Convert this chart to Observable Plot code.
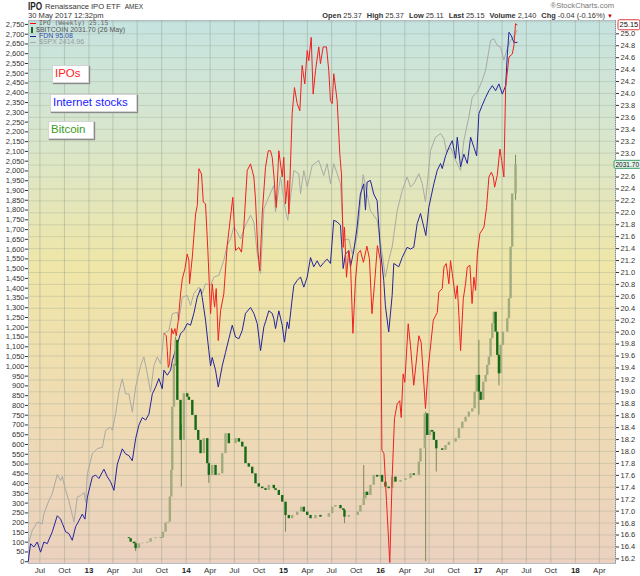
<!DOCTYPE html>
<html><head><meta charset="utf-8">
<script src="https://cdn.jsdelivr.net/npm/d3@7"></script>
<script src="https://cdn.jsdelivr.net/npm/@observablehq/plot@0.6"></script>
<style>
body{margin:0;background:#fff;font-family:"Liberation Sans",Arial,sans-serif;}
#wrap{position:relative;width:640px;height:576px;overflow:hidden;background:#fff;}
#chart{position:absolute;left:0;top:20px;width:640px;height:556px;}
#chart svg{position:absolute;left:0;top:0;}
.h{position:absolute;white-space:nowrap;color:#222;}
.h b{margin-left:3px;}
.ann{position:absolute;background:#fff;border:1px solid #d4d4d4;box-shadow:1px 1px 1px #8a8a8a;font-size:11.5px;line-height:15px;padding-left:2px;white-space:nowrap;}
.lg{position:absolute;left:30px;font-size:7px;white-space:nowrap;line-height:7px;}
.dash{display:inline-block;width:6px;height:0;border-top:1.5px solid;vertical-align:middle;margin-right:3px;}
</style></head>
<body><div id="wrap">
<span class="h" style="left:28px;top:0px;font-weight:bold;font-size:10.5px;transform:scaleX(0.78);transform-origin:left top;">IPO</span>
<span class="h" style="left:45px;top:2px;font-size:7.6px;color:#333;">Renaissance IPO ETF <span style="font-size:6.5px;margin-left:2px">AMEX</span></span>
<span class="h" style="left:28px;top:11px;font-size:7.6px;color:#333;">30 May 2017 12:32pm</span>
<span class="h" style="right:26px;top:1px;font-size:7.6px;color:#777;">®StockCharts.com</span>
<span class="h" style="right:27px;top:11px;font-size:7.4px;color:#333;"><b>Open</b> 25.37 <b>High</b> 25.37 <b>Low</b> 25.11 <b>Last</b> 25.15 <b>Volume</b> 2,140 <b>Chg</b> -0.04 (-0.16%) <span style="color:#c00;font-size:6px">▼</span></span>
<div id="chart"></div>
<div class="lg" style="top:20px;color:#666;font-family:'DejaVu Sans Mono',monospace;font-size:6.4px;"><span class="dash" style="color:#f00"></span>IPO (Weekly) 25.15</div>
<div class="lg" style="top:26px;color:#555;"><span style="display:inline-block;width:2px;height:6px;background:#156b15;margin:0 3px 0 1px;vertical-align:middle"></span>$BITCOIN 2031.70 (26 May)</div>
<div class="lg" style="top:32px;color:#3a4aa8;"><span class="dash" style="color:#22229a"></span>FDN 95.08</div>
<div class="lg" style="top:38px;color:#999;"><span class="dash" style="color:#aaa"></span>$SPX 2414.96</div>
<div class="ann" style="left:52px;top:65px;width:33px;height:16px;color:#ff1a1a;">IPOs</div>
<div class="ann" style="left:50px;top:94px;width:83px;height:16px;color:#1a1aff;">Internet stocks</div>
<div class="ann" style="left:48px;top:121px;width:42px;height:16px;color:#3c9a1c;">Bitcoin</div>
</div>
<script>
// ---- data (dates as decimal years) ----
const spxT = [2012.383,2012.418,2012.470,2012.521,2012.538,2012.589,2012.624,2012.675,2012.709,2012.727,
2012.761,2012.794,2012.846,2012.881,2012.915,2012.949,2012.966,2012.984,2013.035,2013.086,
2013.138,2013.172,2013.223,2013.240,2013.274,2013.308,2013.343,2013.377,2013.411,2013.446,
2013.480,2013.531,2013.565,2013.600,2013.634,2013.668,2013.703,2013.737,2013.754,2013.771,
2013.822,2013.857,2013.909,2013.925,2013.960,2014.011,2014.045,2014.079,2014.131,2014.165,
2014.199,2014.251,2014.285,2014.336,2014.387,2014.422,2014.456,2014.490,2014.525,2014.559,
2014.610,2014.662,2014.696,2014.731,2014.765,2014.799,2014.850,2014.901,2014.919,2014.970,
2015.022,2015.045,2015.107,2015.158,2015.176,2015.210,2015.245,2015.296,2015.364,2015.415,
2015.450,2015.484,2015.518,2015.553,2015.587,2015.621,2015.672,2015.707,2015.758,2015.820,
2015.861,2015.895,2015.964,2016.015,2016.049,2016.083,2016.118,2016.170,2016.221,2016.272,
2016.306,2016.340,2016.392,2016.427,2016.460,2016.512,2016.563,2016.615,2016.649,2016.676,
2016.717,2016.769,2016.820,2016.854,2016.905,2016.940,2016.992,2017.043,2017.077,2017.128,
2017.162,2017.197,2017.231,2017.265,2017.300,2017.334,2017.368,2017.400];
const spxV = [1293,1318,1337,1333,1355,1384,1399,1441,1428,1437,
1406,1384,1337,1392,1395,1402,1380,1443,1487,1498,
1501,1538,1545,1538,1574,1622,1651,1618,1618,1578,
1633,1680,1699,1662,1622,1680,1699,1684,1713,1750,
1757,1794,1797,1779,1830,1834,1812,1838,1852,1838,
1860,1856,1874,1878,1911,1944,1958,1984,1973,1958,
1988,2010,1995,1926,1882,2024,2050,2075,2017,2094,
2020,1999,2108,2101,2057,2108,2072,2119,2130,2097,
2123,2079,2123,2101,2079,1955,1958,1926,1962,2099,
2057,2020,1999,1926,1874,1911,1940,2020,2064,2094,
2072,2079,2101,2079,2039,2152,2181,2189,2178,2148,
2159,2130,2108,2174,2225,2269,2280,2306,2328,2393,
2397,2382,2379,2350,2376,2393,2402,2415];

const fdnT = [2012.377,2012.401,2012.435,2012.470,2012.504,2012.538,2012.572,2012.624,2012.675,2012.709,
2012.727,2012.761,2012.794,2012.829,2012.863,2012.897,2012.932,2012.959,2012.984,2013.035,
2013.069,2013.103,2013.154,2013.189,2013.223,2013.257,2013.292,2013.343,2013.377,2013.411,
2013.446,2013.480,2013.514,2013.549,2013.583,2013.617,2013.652,2013.686,2013.719,2013.754,
2013.771,2013.806,2013.840,2013.857,2013.909,2013.942,2013.976,2014.011,2014.045,2014.079,
2014.114,2014.148,2014.165,2014.199,2014.233,2014.251,2014.268,2014.302,2014.330,2014.371,
2014.405,2014.439,2014.474,2014.508,2014.542,2014.577,2014.610,2014.662,2014.696,2014.731,
2014.765,2014.799,2014.816,2014.850,2014.885,2014.901,2014.919,2014.953,2014.988,2015.011,
2015.039,2015.056,2015.090,2015.107,2015.142,2015.176,2015.210,2015.245,2015.279,2015.312,
2015.347,2015.381,2015.415,2015.450,2015.484,2015.518,2015.553,2015.587,2015.615,2015.638,
2015.672,2015.690,2015.724,2015.758,2015.792,2015.826,2015.844,2015.861,2015.895,2015.929,
2015.964,2015.998,2016.032,2016.049,2016.083,2016.118,2016.135,2016.186,2016.221,2016.255,
2016.272,2016.306,2016.340,2016.375,2016.409,2016.443,2016.464,2016.494,2016.546,2016.581,
2016.615,2016.632,2016.666,2016.700,2016.735,2016.769,2016.786,2016.820,2016.854,2016.889,
2016.923,2016.957,2016.985,2017.008,2017.043,2017.077,2017.111,2017.146,2017.180,2017.214,
2017.249,2017.283,2017.300,2017.317,2017.341,2017.368,2017.400];
const fdnV = [33.8,35.9,35.5,36.1,34.9,36.1,35.9,37.3,39.2,38.8,
38.3,37.3,37.1,36.3,37.9,38.6,39.4,38.8,41.4,43.8,
44.0,43.6,44.7,43.8,43.2,42.2,45.3,47.1,46.5,46.3,
45.7,48.3,49.9,50.8,50.5,51.2,53.6,54.4,55.4,54.2,
56.4,55.8,56.4,57.5,59.5,60.7,61.1,61.9,61.7,63.1,
65.0,66.0,65.0,62.3,58.7,56.9,57.9,56.4,54.4,56.9,
58.5,60.1,61.7,60.3,60.1,61.1,63.1,63.8,63.1,61.9,
58.7,61.5,62.1,63.4,63.1,62.5,61.3,63.4,61.7,59.7,
62.1,61.3,64.8,66.4,67.0,67.4,66.2,67.4,69.7,68.6,
69.3,68.6,69.1,69.5,69.0,74.1,73.9,73.5,68.4,70.1,
70.5,68.6,70.5,73.3,77.2,78.4,75.3,78.6,78.8,77.2,
76.4,70.5,67.0,64.0,60.9,65.2,69.0,68.6,69.7,70.5,
70.9,70.7,70.9,73.7,74.9,73.3,72.3,75.6,78.4,80.0,
80.8,80.2,81.7,82.7,83.5,81.4,83.9,80.4,81.9,80.8,
83.9,82.7,81.7,86.7,87.7,88.6,89.4,90.0,89.4,90.2,
89.0,90.0,93.6,96.3,95.9,95.1,95.1];

const ipoT = [2013.771,2013.795,2013.806,2013.816,2013.829,2013.850,2013.867,2013.884,2013.898,2013.919,
2013.942,2013.960,2013.987,2014.011,2014.028,2014.035,2014.063,2014.097,2014.114,2014.131,
2014.158,2014.176,2014.199,2014.223,2014.251,2014.268,2014.292,2014.309,2014.330,2014.354,
2014.387,2014.422,2014.456,2014.480,2014.508,2014.542,2014.569,2014.593,2014.628,2014.662,
2014.696,2014.713,2014.737,2014.757,2014.782,2014.816,2014.844,2014.867,2014.885,2014.901,
2014.926,2014.953,2014.988,2015.004,2015.022,2015.045,2015.056,2015.090,2015.114,2015.142,
2015.169,2015.193,2015.220,2015.245,2015.261,2015.286,2015.306,2015.330,2015.364,2015.381,
2015.409,2015.443,2015.467,2015.484,2015.502,2015.518,2015.553,2015.580,2015.597,2015.615,
2015.628,2015.649,2015.672,2015.690,2015.715,2015.741,2015.767,2015.792,2015.823,2015.859,
2015.885,2015.911,2015.936,2015.967,2015.998,2016.013,2016.034,2016.060,2016.094,2016.118,
2016.142,2016.170,2016.196,2016.211,2016.231,2016.248,2016.283,2016.306,2016.340,2016.365,
2016.392,2016.416,2016.460,2016.488,2016.540,2016.581,2016.597,2016.632,2016.649,2016.673,
2016.700,2016.717,2016.735,2016.751,2016.769,2016.786,2016.803,2016.820,2016.848,2016.871,
2016.889,2016.916,2016.938,2016.957,2016.974,2016.992,2017.018,2017.060,2017.087,2017.111,
2017.136,2017.156,2017.170,2017.197,2017.224,2017.242,2017.265,2017.283,2017.317,2017.351,
2017.368,2017.385,2017.400];
const ipoV = [19.98,19.94,19.69,19.41,19.47,20.06,19.97,20.06,19.94,20.20,
20.64,20.89,21.06,21.31,21.20,20.81,21.26,21.98,22.12,22.74,
22.65,22.18,22.15,21.37,20.31,20.81,20.42,20.73,19.86,20.36,
20.64,21.45,21.93,22.26,21.37,21.42,21.34,21.76,22.71,22.82,
22.60,22.23,21.37,21.03,21.98,22.76,23.04,23.04,22.93,22.65,
22.09,23.04,22.60,22.93,22.15,22.54,21.98,23.66,24.10,23.83,
23.71,24.47,24.16,24.72,24.55,24.94,23.99,24.38,24.78,24.50,
24.78,24.78,24.38,23.88,23.83,24.33,23.88,22.99,22.65,21.42,
21.76,20.92,21.37,21.15,19.98,20.87,21.32,21.37,21.17,21.44,
21.23,20.31,20.78,21.45,21.20,18.02,17.97,17.18,16.14,17.55,
18.55,18.80,18.85,18.57,19.30,19.16,20.14,19.78,19.11,19.50,
19.94,19.83,18.72,19.39,20.20,20.33,20.67,20.73,21.09,21.15,
20.81,21.20,20.98,20.78,20.56,20.78,20.28,19.69,20.56,20.81,
21.09,21.12,20.48,20.92,20.70,21.31,21.65,21.76,22.09,22.60,
22.68,22.60,22.43,22.63,23.07,22.88,22.60,24.10,24.61,24.66,
24.80,25.17,25.15];

const btcT = [2013.377,2013.411,2013.429,2013.462,2013.480,2013.514,2013.549,2013.600,2013.634,2013.686,
2013.737,2013.761,2013.788,2013.816,2013.832,2013.847,2013.857,2013.874,2013.891,2013.909,
2013.942,2013.976,2014.011,2014.028,2014.063,2014.097,2014.124,2014.148,2014.182,2014.217,
2014.233,2014.268,2014.302,2014.336,2014.371,2014.405,2014.439,2014.474,2014.508,2014.542,
2014.577,2014.610,2014.644,2014.679,2014.713,2014.747,2014.782,2014.816,2014.850,2014.901,
2014.919,2014.953,2014.988,2015.022,2015.056,2015.090,2015.142,2015.183,2015.210,2015.245,
2015.279,2015.330,2015.381,2015.433,2015.467,2015.502,2015.535,2015.587,2015.615,2015.628,
2015.672,2015.724,2015.765,2015.792,2015.826,2015.844,2015.861,2015.895,2015.929,2015.964,
2015.998,2016.015,2016.049,2016.083,2016.118,2016.152,2016.204,2016.255,2016.306,2016.340,
2016.375,2016.392,2016.409,2016.437,2016.453,2016.478,2016.505,2016.529,2016.546,2016.571,
2016.597,2016.632,2016.666,2016.700,2016.735,2016.769,2016.803,2016.838,2016.871,2016.905,
2016.940,2016.964,2016.985,2017.008,2017.026,2017.053,2017.077,2017.094,2017.111,2017.128,
2017.146,2017.162,2017.180,2017.197,2017.214,2017.231,2017.255,2017.283,2017.300,2017.317,
2017.334,2017.351,2017.385];
const btcClose = [123,118,100,92,67,92,95,100,118,123,
121,151,198,203,331,467,791,1011,1133,826,
621,860,842,826,749,672,621,553,630,502,
442,493,442,450,553,655,604,604,630,612,
587,502,484,450,399,382,374,365,391,374,
365,339,305,237,220,237,254,279,254,237,
220,237,228,228,246,279,288,271,263,228,
237,237,254,288,322,356,339,391,442,433,
442,407,382,374,433,407,416,425,450,442,
442,510,578,578,757,646,672,663,621,578,
578,570,595,612,612,630,681,715,740,766,
783,868,954,868,826,919,954,1005,1047,1141,
1218,1277,1175,1056,962,1107,1175,1175,1244,1346,
1610,1883,2032];
// visible candle wicks: date, low, high
const wickT    = [2013.480,2013.891,2013.950,2014.233,2015.022,2015.628,2015.826,2016.462,2016.571,2017.008,2017.214,2017.385];
const wickLow  = [52,1000,382,401,151,195,322,0,459,750,900,1850];
const wickHigh = [100,1150,700,500,300,270,493,766,620,1133,1060,2080];

// axis ticks
const btcTicks = d3.range(0, 2751, 50);
const ipoTicks = d3.range(81, 126).map(i => i / 5).filter(v => Math.abs(v - 22.8) > 1e-6); // 22.8 hidden under the Bitcoin value box
const ipoGrid  = d3.range(81, 127).map(i => i / 5);
const btcDomain = [-9, 2770];
const ipoDomain = [16.123, 25.223];
const fdnDomain = [33.56, 97.69];
const spxDomain = [1246, 2437];
const lastIPO = 25.15, lastBTC = 2031.70;

// ---- helpers ----
const toDate = t => { const y = Math.floor(t); const a = Date.UTC(y,0,1), b = Date.UTC(y+1,0,1); return new Date(a + (t - y) * (b - a)); };
const zip = (T, V) => T.slice(0, Math.min(T.length, V.length)).map((t, i) => ({date: toDate(t), v: V[i]}));
const xDomain = [toDate(2012.380), toDate(2018.413)];
const quarters = d3.utcMonth.every(3).range(toDate(2012.45), toDate(2018.41));

const W = 640, H = 556, ML = 28, MR = 25, MT = 0, MB = 13;
function layer(yDomain, marks) {
  return Plot.plot({
    width: W, height: H, marginLeft: ML, marginRight: MR, marginTop: MT, marginBottom: MB,
    style: {background: "transparent", overflow: "visible", fontFamily: "'Liberation Sans', Arial, sans-serif", fontSize: "7.5px", color: "#333"},
    x: {type: "utc", domain: xDomain, axis: null},
    y: {domain: yDomain, axis: null},
    marks
  });
}
function gradientDefs() {
  const ns = "http://www.w3.org/2000/svg";
  const defs = document.createElementNS(ns, "defs");
  const lg = document.createElementNS(ns, "linearGradient");
  lg.setAttribute("id", "bgGrad"); lg.setAttribute("x1", "0"); lg.setAttribute("y1", "0"); lg.setAttribute("x2", "0"); lg.setAttribute("y2", "1");
  [["0", "#c6e3e0"], ["0.22", "#d9e6cb"], ["0.45", "#efe6a8"], ["0.7", "#efdcb2"], ["1", "#ebd1bf"]].forEach(([o, c]) => {
    const s = document.createElementNS(ns, "stop"); s.setAttribute("offset", o); s.setAttribute("stop-color", c); lg.appendChild(s);
  });
  defs.appendChild(lg);
  return defs;
}

const spx = zip(spxT, spxV), fdn = zip(fdnT, fdnV), ipo = zip(ipoT, ipoV);
const btc = btcT.slice(0, Math.min(btcT.length, btcClose.length)).map((t, i) => ({date: toDate(t), open: i ? btcClose[i-1] : btcClose[0], close: btcClose[i]}));
const wicks = wickT.map((t, i) => ({date: toDate(t), low: wickLow[i], high: wickHigh[i]}));

const chart = document.getElementById("chart");

// base: background, grid, right axis (IPO scale)
const base = layer(ipoDomain, [
  gradientDefs,
  Plot.frame({fill: "url(#bgGrad)", stroke: "#b4bcc4"}),
  Plot.ruleY(ipoGrid, {stroke: "#8d9c8a", strokeOpacity: 0.28}),
  Plot.ruleX(quarters, {stroke: "#8d9c8a", strokeOpacity: 0.42}),
  Plot.ruleX([xDomain[1]], {stroke: "#7f8e9c", strokeDasharray: "1,1"}),
  Plot.axisY(ipoTicks, {anchor: "right", tickSize: 3, tickPadding: 2, tickFormat: d => d.toFixed(1)})
]);
chart.appendChild(base);

chart.appendChild(layer(spxDomain, [Plot.line(spx, {x: "date", y: "v", stroke: "#a9aaa4", strokeWidth: 1})]));
chart.appendChild(layer(fdnDomain, [Plot.line(fdn, {x: "date", y: "v", stroke: "#24249c", strokeWidth: 1})]));

const btcLayer = layer(btcDomain, [
  Plot.ruleX(wicks, {x: "date", y1: "low", y2: "high", stroke: "#7b8a58", strokeWidth: 1}),
  Plot.ruleX(btc.filter(d => d.close >= d.open), {x: "date", y1: "open", y2: "close", stroke: "#a0ab7e", strokeWidth: 2.4}),
  Plot.ruleX(btc.filter(d => d.close < d.open), {x: "date", y1: "open", y2: "close", stroke: "#156b15", strokeWidth: 2.4}),
  Plot.axisY(btcTicks, {anchor: "left", tickSize: 3, tickPadding: 1}),
  Plot.axisX(quarters, {anchor: "bottom", tickSize: 0, tickPadding: 4, fontSize: 8,
    tickFormat: d => d.getUTCMonth() === 0 ? String(d.getUTCFullYear()).slice(2) : d3.utcFormat("%b")(d)}),
  Plot.text([lastBTC], {y: d => d, text: d => d.toFixed(2), frameAnchor: "right", dx: 0, textAnchor: "start", fill: "#111", fontSize: 6.5})
]);
chart.appendChild(btcLayer);

const ipoLayer = layer(ipoDomain, [
  Plot.line(ipo, {x: "date", y: "v", stroke: "#f02020", strokeWidth: 1}),
  Plot.text([lastIPO], {y: d => d, text: d => d.toFixed(2), frameAnchor: "right", dx: 4, textAnchor: "start", fill: "#111"})
]);
chart.appendChild(ipoLayer);

// bold year labels on the x axis
const yearLabels = new Set(["13", "14", "15", "16", "17", "18"]);
btcLayer.querySelectorAll('g[aria-label="x-axis tick label"] text').forEach(t => {
  if (yearLabels.has(t.textContent)) { t.setAttribute("font-weight", "bold"); t.setAttribute("fill", "#222"); }
});
// value boxes behind last-value labels
function boxLabel(svg, value, stroke, fill) {
  const ns = "http://www.w3.org/2000/svg";
  svg.querySelectorAll("text").forEach(t => {
    if (t.textContent !== value) return;
    const b = t.getBBox();
    const r = document.createElementNS(ns, "rect");
    r.setAttribute("x", b.x - 1.5); r.setAttribute("y", b.y - 0.5);
    r.setAttribute("width", b.width + 3); r.setAttribute("height", b.height + 1);
    r.setAttribute("rx", 1.5);
    r.setAttribute("fill", fill); r.setAttribute("stroke", stroke); r.setAttribute("stroke-width", 1);
    if (t.getAttribute("transform")) r.setAttribute("transform", t.getAttribute("transform"));
    t.parentNode.insertBefore(r, t);
  });
}
boxLabel(ipoLayer, lastIPO.toFixed(2), "#e03a3a", "#ffffff");
boxLabel(btcLayer, lastBTC.toFixed(2), "#3d9a6a", "#e2f3ea");
</script>
</body></html>
